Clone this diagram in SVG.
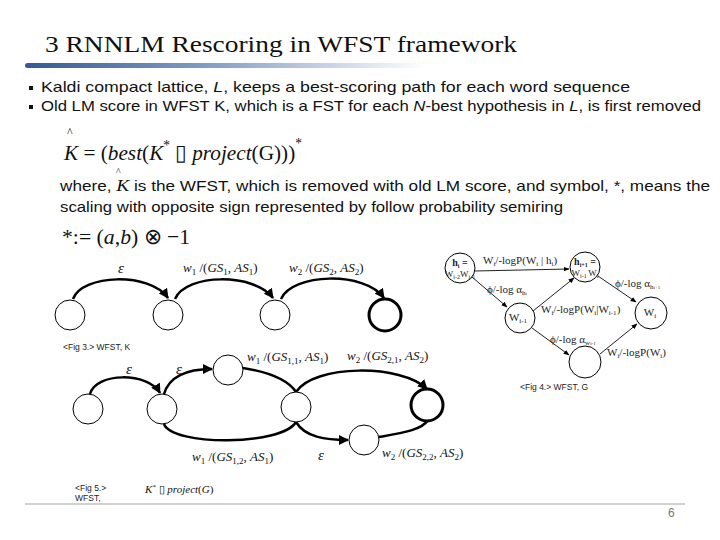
<svg xmlns="http://www.w3.org/2000/svg" width="720" height="540" viewBox="0 0 720 540">
<defs>
<linearGradient id="bar" x1="0" y1="0" x2="1" y2="0">
<stop offset="0" stop-color="#345a94"/>
<stop offset="0.45" stop-color="#7f9cc4"/>
<stop offset="1" stop-color="#ffffff"/>
</linearGradient>
<marker id="ah" viewBox="0 0 10 10" refX="9" refY="5" markerWidth="4" markerHeight="4" orient="auto" markerUnits="strokeWidth">
<path d="M0,0 L10,5 L0,10 z" fill="#000"/>
</marker>
<marker id="as" viewBox="0 0 10 10" refX="9" refY="5" markerWidth="6" markerHeight="6" orient="auto" markerUnits="strokeWidth">
<path d="M0,1 L10,5 L0,9 z" fill="#000"/>
</marker>
</defs>
<style>
.title{font-family:"Liberation Serif",serif;font-size:24px;fill:#111}
.body{font-family:"Liberation Sans",sans-serif;font-size:15px;fill:#111}
.math{font-family:"Liberation Serif",serif;font-size:22px;fill:#111}
.it{font-style:italic}
.lab{font-family:"Liberation Serif",serif;font-size:13px;fill:#111}
.g4{font-family:"Liberation Serif",serif;font-size:11px;fill:#222}
.cap{font-family:"Liberation Sans",sans-serif;font-size:8.5px;fill:#222}
.node{fill:#fff;stroke:#000;stroke-width:1}
.final{fill:#fff;stroke:#000;stroke-width:3}
.arc{fill:none;stroke:#000;stroke-width:2.5}
.thin{fill:none;stroke:#222;stroke-width:1}
</style>
<rect width="720" height="540" fill="#fff"/>
<text class="title" x="45" y="52" textLength="472" lengthAdjust="spacingAndGlyphs">3 RNNLM Rescoring in WFST framework</text>
<rect x="25" y="63" width="400" height="5" rx="2.5" fill="url(#bar)"/>
<rect x="29" y="86" width="4" height="4" fill="#111"/>
<text class="body" x="41" y="92" textLength="589" lengthAdjust="spacingAndGlyphs">Kaldi compact lattice, <tspan class="it">L</tspan>, keeps a best-scoring path for each word sequence</text>
<rect x="29" y="105" width="4" height="4" fill="#111"/>
<text class="body" x="41" y="111" textLength="660" lengthAdjust="spacingAndGlyphs">Old LM score in WFST K, which is a FST for each <tspan class="it">N</tspan>-best hypothesis in <tspan class="it">L</tspan>, is first removed</text>
<text class="math" x="67" y="136" style="font-size:12px">^</text>
<text class="math" x="64" y="160" textLength="238" lengthAdjust="spacingAndGlyphs"><tspan class="it">K</tspan> = (<tspan class="it">best</tspan>(<tspan class="it">K</tspan><tspan dy="-10" style="font-size:14px">*</tspan><tspan dy="10"> ▯ </tspan><tspan class="it">project</tspan>(G)))<tspan dy="-12" style="font-size:14px">*</tspan></text>
<text class="math" x="116" y="175" style="font-size:10px">^</text>
<text class="body" x="60" y="191" textLength="650" lengthAdjust="spacingAndGlyphs">where, <tspan class="it" style="font-family:'Liberation Serif',serif;font-size:17px">K</tspan> is the WFST, which is removed with old LM score, and symbol, *, means the</text>
<text class="body" x="60" y="212" textLength="503" lengthAdjust="spacingAndGlyphs">scaling with opposite sign represented by follow probability semiring</text>
<text class="math" x="62" y="244" textLength="128" lengthAdjust="spacingAndGlyphs">*:= (<tspan class="it">a</tspan>,<tspan class="it">b</tspan>) ⊗ −1</text>

<g id="connectors">
<path class="arc" d="M73,299 C82,274 150,272 168,298" marker-end="url(#ah)"/>
<path class="arc" d="M175,299 C186,273 255,273 273,298" marker-end="url(#ah)"/>
<path class="arc" d="M281,299 C292,273 365,271 384,298" marker-end="url(#ah)"/>
<line class="thin" x1="475" y1="271" x2="569" y2="269" marker-end="url(#as)"/>
<line class="thin" x1="472" y1="277" x2="507" y2="307" marker-end="url(#as)"/>
<line class="thin" x1="533" y1="311" x2="574" y2="278" marker-end="url(#as)"/>
<line class="thin" x1="598" y1="276" x2="636" y2="302" marker-end="url(#as)"/>
<line class="thin" x1="532" y1="328" x2="569" y2="355" marker-end="url(#as)"/>
<line class="thin" x1="600" y1="354" x2="637" y2="324" marker-end="url(#as)"/>
<path class="arc" d="M90,394 C96,372 148,372 160,393" marker-end="url(#ah)"/>
<path class="arc" d="M164,394 C170,374 190,369 212,369" marker-end="url(#ah)"/>
<path class="arc" d="M243,368 C268,372 288,380 296,392"/>
<path class="arc" d="M296,392 C314,364 402,364 427,389" marker-end="url(#ah)"/>
<path class="arc" d="M164,424 C172,446 282,446 296,422"/>
<path class="arc" d="M296,422 C305,437 325,440 348,440" marker-end="url(#ah)"/>
<path class="arc" d="M379,437 C402,433 422,430 428,420"/>
</g>

<g id="k1"><circle class="node" cx="70" cy="315" r="15"/></g>
<g id="k2"><circle class="node" cx="168" cy="315" r="15"/></g>
<g id="k3"><circle class="node" cx="275" cy="315" r="15"/></g>
<g id="k4"><circle class="final" cx="385" cy="315" r="16"/></g>
<g id="k-labels">
<text class="lab it" x="118" y="273" style="font-size:15px">ε</text>
<text class="lab" x="183" y="272"><tspan class="it">w</tspan><tspan dy="3" style="font-size:9px">1</tspan><tspan dy="-3"> /(</tspan><tspan class="it">GS</tspan><tspan dy="3" style="font-size:9px">1</tspan><tspan dy="-3">, </tspan><tspan class="it">AS</tspan><tspan dy="3" style="font-size:9px">1</tspan><tspan dy="-3">)</tspan></text>
<text class="lab" x="289" y="272"><tspan class="it">w</tspan><tspan dy="3" style="font-size:9px">2</tspan><tspan dy="-3"> /(</tspan><tspan class="it">GS</tspan><tspan dy="3" style="font-size:9px">2</tspan><tspan dy="-3">, </tspan><tspan class="it">AS</tspan><tspan dy="3" style="font-size:9px">2</tspan><tspan dy="-3">)</tspan></text>
<text class="cap" x="63" y="350">&lt;Fig 3.&gt; WFST, K</text>
</g>

<g id="g-hi"><circle class="node" cx="460" cy="268" r="15"/>
<text class="g4" x="460" y="266" text-anchor="middle" style="font-size:10px;font-weight:bold">h<tspan dy="2" style="font-size:6px">i</tspan><tspan dy="-2"> =</tspan></text>
<text class="g4" x="460" y="277" text-anchor="middle" style="font-size:9px">W<tspan dy="2" style="font-size:6px">i-2</tspan><tspan dy="-2">W</tspan><tspan dy="2" style="font-size:6px">i-1</tspan></text></g>
<g id="g-hi1"><circle class="node" cx="585" cy="267" r="15"/>
<text class="g4" x="585" y="265" text-anchor="middle" style="font-size:10px;font-weight:bold">h<tspan dy="2" style="font-size:6px">i+1</tspan><tspan dy="-2"> =</tspan></text>
<text class="g4" x="585" y="276" text-anchor="middle" style="font-size:9px">W<tspan dy="2" style="font-size:6px">i-1 </tspan><tspan dy="-2">W</tspan><tspan dy="2" style="font-size:6px">i</tspan></text></g>
<g id="g-wi1"><circle class="node" cx="520" cy="318" r="15"/>
<text class="g4" x="518" y="321" text-anchor="middle">W<tspan dy="2" style="font-size:7px">i-1</tspan></text></g>
<g id="g-wi"><circle class="node" cx="651" cy="313" r="16"/>
<text class="g4" x="650" y="316" text-anchor="middle">W<tspan dy="2" style="font-size:7px">i</tspan></text></g>
<g id="g-e"><circle class="node" cx="585" cy="362" r="16"/></g>
<g id="g-labels">
<text class="g4" x="483" y="264">W<tspan dy="2" style="font-size:7px">i</tspan><tspan dy="-2">/-logP(W</tspan><tspan dy="2" style="font-size:7px">i</tspan><tspan dy="-2"> | h</tspan><tspan dy="2" style="font-size:7px">i</tspan><tspan dy="-2">)</tspan></text>
<text class="g4" x="487" y="293">ϕ/-log α<tspan dy="2" style="font-size:7px">h<tspan style="font-size:5px">i</tspan></tspan></text>
<text class="g4" x="541" y="313">W<tspan dy="2" style="font-size:7px">i</tspan><tspan dy="-2">/-logP(W</tspan><tspan dy="2" style="font-size:7px">i</tspan><tspan dy="-2">|W</tspan><tspan dy="2" style="font-size:7px">i-1</tspan><tspan dy="-2">)</tspan></text>
<text class="g4" x="615" y="287">ϕ/-log α<tspan dy="2" style="font-size:7px">h<tspan style="font-size:5px">i+1</tspan></tspan></text>
<text class="g4" x="550" y="343">ϕ/-log α<tspan dy="2" style="font-size:7px">w<tspan style="font-size:5px">i-1</tspan></tspan></text>
<text class="g4" x="607" y="356">W<tspan dy="2" style="font-size:7px">i</tspan><tspan dy="-2">/-logP(W</tspan><tspan dy="2" style="font-size:7px">i</tspan><tspan dy="-2">)</tspan></text>
<text class="cap" x="520" y="390">&lt;Fig 4.&gt; WFST, G</text>
</g>

<g id="c1"><circle class="node" cx="88" cy="409" r="15"/></g>
<g id="c2"><circle class="node" cx="162" cy="409" r="15"/></g>
<g id="c3"><circle class="node" cx="228" cy="370" r="15"/></g>
<g id="c4"><circle class="node" cx="296" cy="407" r="15"/></g>
<g id="c5"><circle class="final" cx="427" cy="405" r="16"/></g>
<g id="c6"><circle class="node" cx="364" cy="440" r="15"/></g>
<g id="c-labels">
<text class="lab it" x="126" y="374" style="font-size:15px">ε</text>
<text class="lab it" x="176" y="374" style="font-size:15px">ε</text>
<text class="lab" x="247" y="361"><tspan class="it">w</tspan><tspan dy="3" style="font-size:9px">1</tspan><tspan dy="-3"> /(</tspan><tspan class="it">GS</tspan><tspan dy="3" style="font-size:9px">1,1</tspan><tspan dy="-3">, </tspan><tspan class="it">AS</tspan><tspan dy="3" style="font-size:9px">1</tspan><tspan dy="-3">)</tspan></text>
<text class="lab" x="347" y="360"><tspan class="it">w</tspan><tspan dy="3" style="font-size:9px">2</tspan><tspan dy="-3"> /(</tspan><tspan class="it">GS</tspan><tspan dy="3" style="font-size:9px">2,1</tspan><tspan dy="-3">, </tspan><tspan class="it">AS</tspan><tspan dy="3" style="font-size:9px">2</tspan><tspan dy="-3">)</tspan></text>
<text class="lab" x="192" y="461"><tspan class="it">w</tspan><tspan dy="3" style="font-size:9px">1</tspan><tspan dy="-3"> /(</tspan><tspan class="it">GS</tspan><tspan dy="3" style="font-size:9px">1,2</tspan><tspan dy="-3">, </tspan><tspan class="it">AS</tspan><tspan dy="3" style="font-size:9px">1</tspan><tspan dy="-3">)</tspan></text>
<text class="lab it" x="318" y="460" style="font-size:15px">ε</text>
<text class="lab" x="382" y="457"><tspan class="it">w</tspan><tspan dy="3" style="font-size:9px">2</tspan><tspan dy="-3"> /(</tspan><tspan class="it">GS</tspan><tspan dy="3" style="font-size:9px">2,2</tspan><tspan dy="-3">, </tspan><tspan class="it">AS</tspan><tspan dy="3" style="font-size:9px">2</tspan><tspan dy="-3">)</tspan></text>
<text class="cap" x="75" y="491">&lt;Fig 5.&gt;</text>
<text class="cap" x="75" y="501">WFST,</text>
<text class="lab it" x="145" y="493" style="font-size:11px">K<tspan dy="-4" style="font-size:7px">*</tspan><tspan dy="4" style="font-style:normal"> ▯ </tspan>project<tspan style="font-style:normal">(</tspan>G<tspan style="font-style:normal">)</tspan></text>
</g>
<line x1="25" y1="504" x2="685" y2="504" stroke="#d0d0d0" stroke-width="2"/>
<text x="668" y="517" style="font-family:'Liberation Sans',sans-serif;font-size:12px;fill:#777">6</text>
</svg>
